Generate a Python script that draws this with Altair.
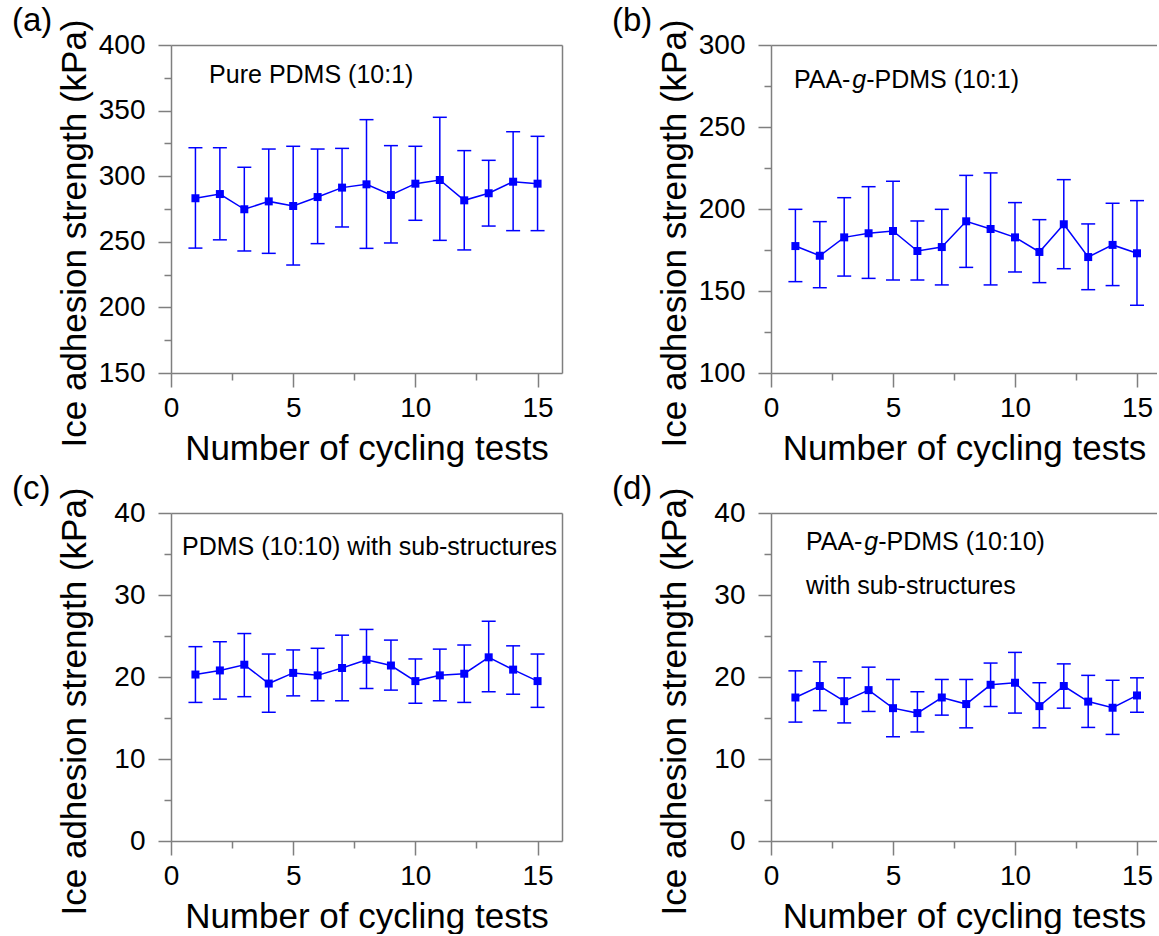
import altair as alt
import pandas as pd

FONT = "Liberation Sans"
BLUE = "#0000ff"
GRAY = "#7f7f7f"

cycles = list(range(1, 16))

# (a) Pure PDMS (10:1)
a_mean = [283.2, 286.4, 274.8, 280.8, 277.3, 284.1, 291.3, 293.8, 285.7, 294.3, 297.1, 281.6, 287.0, 295.8, 294.3]
a_upper = [321.7, 321.7, 306.8, 320.7, 322.8, 320.7, 321.2, 343.1, 323.3, 322.8, 344.9, 319.5, 312.1, 333.9, 330.4]
a_lower = [245.2, 251.5, 243.0, 241.2, 232.3, 248.6, 261.3, 245.0, 249.1, 266.4, 251.1, 243.8, 262.0, 258.5, 258.5]

# (b) PAA-g-PDMS (10:1)
b_mean = [177.4, 171.5, 182.7, 185.2, 186.6, 174.4, 176.8, 192.5, 187.8, 182.7, 173.8, 190.7, 170.7, 178.1, 173.0]
b_upper = [199.8, 192.3, 206.9, 213.6, 216.9, 192.7, 199.8, 220.5, 222.0, 203.9, 193.5, 217.9, 190.9, 203.5, 205.1]
b_lower = [155.7, 152.0, 159.1, 157.7, 156.7, 156.7, 153.7, 164.4, 153.7, 161.6, 155.1, 163.6, 150.8, 153.3, 141.3]

# (c) PDMS (10:10) with sub-structures
c_mean = [20.3, 20.8, 21.5, 19.2, 20.5, 20.2, 21.1, 22.1, 21.4, 19.5, 20.2, 20.4, 22.4, 20.9, 19.5]
c_upper = [23.7, 24.3, 25.3, 22.8, 23.3, 23.5, 25.1, 25.8, 24.5, 22.2, 23.4, 23.9, 26.8, 23.8, 22.8]
c_lower = [16.9, 17.3, 17.6, 15.7, 17.7, 17.1, 17.1, 18.6, 18.4, 16.8, 17.1, 16.9, 18.2, 17.9, 16.3]

# (d) PAA-g-PDMS (10:10) with sub-structures
d_mean = [17.5, 18.9, 17.05, 18.4, 16.2, 15.6, 17.5, 16.7, 19.05, 19.3, 16.45, 18.9, 17.0, 16.25, 17.75]
d_upper = [20.75, 21.85, 19.9, 21.2, 19.7, 18.2, 19.7, 19.7, 21.7, 23.0, 19.3, 21.6, 20.2, 19.6, 19.9]
d_lower = [14.5, 15.9, 14.4, 15.8, 12.7, 13.3, 15.35, 13.8, 16.4, 15.6, 13.8, 16.2, 13.85, 13.0, 15.7]

x_major = [0, 5, 10, 15]
x_minor = [2.5, 7.5, 12.5]

X_TITLE = "Number of cycling tests"
Y_TITLE = "Ice adhesion strength (kPa)"


def panel(mean, lower, upper, y_dom, y_major, y_minor, x_max, width, label, notes, right_frame):
    df = pd.DataFrame({"cycle": cycles, "mean": mean, "lower": lower, "upper": upper})
    xs = alt.Scale(domain=[0, x_max], nice=False, zero=False)
    ys = alt.Scale(domain=y_dom, nice=False, zero=False)

    x_axis = alt.Axis(orient="bottom", values=x_major, title=X_TITLE, grid=False,
                      tickSize=14, tickWidth=1.5, tickColor=GRAY,
                      domainColor=GRAY, domainWidth=1.5,
                      labelFont=FONT, labelFontSize=28, labelColor="black", labelPadding=7,
                      labelFlush=False, labelOverlap=False,
                      titleFont=FONT, titleFontSize=35, titleFontWeight="normal", titleColor="black",
                      titleY=58, titleBaseline="top")
    y_axis = alt.Axis(orient="left", values=y_major, title=Y_TITLE, grid=False,
                      tickSize=13, tickWidth=1.5, tickColor=GRAY,
                      domainColor=GRAY, domainWidth=1.5,
                      labelFont=FONT, labelFontSize=28, labelColor="black", labelPadding=13,
                      labelFlush=False, labelOverlap=False,
                      titleFont=FONT, titleFontSize=35, titleFontWeight="normal", titleColor="black",
                      titleX=-79, titleY=188, titleBaseline="bottom")

    base = alt.Chart(df)
    X = alt.X("cycle:Q", scale=xs, axis=x_axis)

    line = base.mark_line(color=BLUE, strokeWidth=1.5).encode(
        x=X, y=alt.Y("mean:Q", scale=ys, axis=y_axis))
    bars = base.mark_rule(color=BLUE, strokeWidth=1.5).encode(
        x=X, y=alt.Y("lower:Q", scale=ys, axis=y_axis), y2="upper:Q")
    cap_u = base.mark_tick(color=BLUE, thickness=1.5, size=14, orient="horizontal", opacity=1).encode(
        x=X, y=alt.Y("upper:Q", scale=ys, axis=y_axis))
    cap_l = base.mark_tick(color=BLUE, thickness=1.5, size=14, orient="horizontal", opacity=1).encode(
        x=X, y=alt.Y("lower:Q", scale=ys, axis=y_axis))
    pts = base.mark_point(shape="square", filled=True, size=64, color=BLUE, opacity=1).encode(
        x=X, y=alt.Y("mean:Q", scale=ys, axis=y_axis))

    layers = [line, bars, cap_u, cap_l, pts]
    for n in notes:
        ndf = pd.DataFrame({"x": [n["x"]], "y": [n["y"]], "t": [n["t"]]})
        layers.append(
            alt.Chart(ndf).mark_text(align="left", baseline="middle", font=FONT, fontSize=25,
                                     color="black", fontStyle=n.get("style", "normal"), dx=n.get("dx", 0)).encode(
                x=alt.X("x:Q", scale=xs, axis=x_axis),
                y=alt.Y("y:Q", scale=ys, axis=y_axis),
                text="t:N"))
    main = alt.layer(*layers)

    minor = base.mark_point(opacity=0, size=1).encode(
        x=alt.X("cycle:Q", scale=xs,
                axis=alt.Axis(orient="bottom", values=x_minor, labels=False, domain=False,
                              tickSize=7, tickWidth=1.5, tickColor=GRAY, title=None, grid=False)),
        y=alt.Y("mean:Q", scale=ys,
                axis=alt.Axis(orient="left", values=y_minor, labels=False, domain=False,
                              tickSize=7, tickWidth=1.5, tickColor=GRAY, title=None, grid=False)))

    if right_frame:
        fy = alt.Y("mean:Q", scale=ys,
                   axis=alt.Axis(orient="right", ticks=False, labels=False, domain=True,
                                 domainColor=GRAY, domainWidth=1.5, title=None, grid=False))
    else:
        fy = alt.Y("mean:Q", scale=ys, axis=None)
    frame = base.mark_point(opacity=0, size=1).encode(
        x=alt.X("cycle:Q", scale=xs,
                axis=alt.Axis(orient="top", ticks=False, labels=False, domain=True,
                              domainColor=GRAY, domainWidth=1.5, title=None, grid=False)),
        y=fy)

    return alt.layer(main, minor, frame).resolve_axis(x="independent", y="independent").properties(
        width=width, height=328,
        title=alt.TitleParams(text=label, anchor="start", frame="bounds", orient="top",
                              font=FONT, fontSize=33, fontWeight="normal", color="black",
                              baseline="top", offset=0, dx=-45, dy=19))


pa = panel(a_mean, a_lower, a_upper, [150, 400], [150, 200, 250, 300, 350, 400],
           [175, 225, 275, 325, 375], 16, 391, "(a)",
           [{"x": 1.56, "y": 377, "t": "Pure PDMS (10:1)"}], True)
pb = panel(b_mean, b_lower, b_upper, [100, 300], [100, 150, 200, 250, 300],
           [125, 175, 225, 275], 15.82, 386, "(b)",
           [{"x": 0.94, "y": 278.5, "t": "PAA-"},
            {"x": 0.94, "y": 278.5, "t": "g", "style": "italic", "dx": 58.4},
            {"x": 0.94, "y": 278.5, "t": "-PDMS (10:1)", "dx": 72.3}], False)
pc = panel(c_mean, c_lower, c_upper, [0, 40], [0, 10, 20, 30, 40],
           [5, 15, 25, 35], 16, 391, "(c)",
           [{"x": 0.45, "y": 35.9, "t": "PDMS (10:10) with sub-structures"}], True)
pd_ = panel(d_mean, d_lower, d_upper, [0, 40], [0, 10, 20, 30, 40],
            [5, 15, 25, 35], 15.82, 386, "(d)",
            [{"x": 1.43, "y": 36.5, "t": "PAA-"},
             {"x": 1.43, "y": 36.5, "t": "g", "style": "italic", "dx": 58.4},
             {"x": 1.43, "y": 36.5, "t": "-PDMS (10:10)", "dx": 72.3},
             {"x": 1.43, "y": 31.1, "t": "with sub-structures"}], False)

chart = alt.concat(pa, pb, pc, pd_, columns=2, spacing={"row": 140, "column": 209},
                   bounds="flush").properties(
    padding={"left": 11, "top": 4, "right": 0, "bottom": 0},
    background="white",
).configure_view(stroke=None)

chart.save("out.html", embed_options={"renderer": "svg", "actions": False})
